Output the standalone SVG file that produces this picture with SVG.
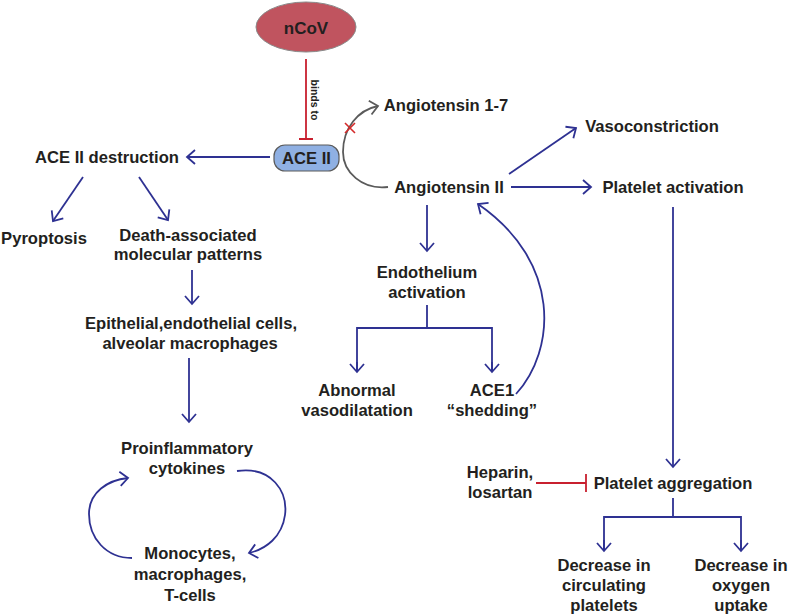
<svg xmlns="http://www.w3.org/2000/svg" width="790" height="616" viewBox="0 0 790 616">
<defs>
<style>
text{font-family:"Liberation Sans",Arial,sans-serif;font-weight:bold;fill:#231f20;text-anchor:middle;dominant-baseline:central}
.t{font-size:16.6px}
.b{fill:none;stroke:#2e3192;stroke-width:1.8}
.r{fill:none;stroke:#c8202f;stroke-width:1.8}
.g{fill:none;stroke:#5a5a5a;stroke-width:1.8}
</style>
<marker id="ab" markerUnits="userSpaceOnUse" markerWidth="20" markerHeight="20" viewBox="-10 -10 20 20" refX="0" refY="0" orient="auto"><path d="M-8,-7 L0,0 L-8,7" fill="none" stroke="#2e3192" stroke-width="1.8"/></marker>
<marker id="ag" markerUnits="userSpaceOnUse" markerWidth="20" markerHeight="20" viewBox="-10 -10 20 20" refX="0" refY="0" orient="auto"><path d="M-8,-7 L0,0 L-8,7" fill="none" stroke="#5a5a5a" stroke-width="1.8"/></marker>
</defs>
<rect width="790" height="616" fill="#fff"/>
<g id="connectors">
<path class="r" d="M306,59 V139 M299,139 H313"/>
<path class="b" d="M270,157 H187" marker-end="url(#ab)"/>
<path class="g" d="M388,187 C362,190 343,172 343,152 C343,128 358,110 378,106" marker-end="url(#ag)"/>
<path d="M345,123 L355,133 M345,133 L355,123" stroke="#d42a2a" stroke-width="1.6"/>
<path class="b" d="M509,174 L576,128" marker-end="url(#ab)"/>
<path class="b" d="M511,187 H591" marker-end="url(#ab)"/>
<path class="b" d="M673,207 V467" marker-end="url(#ab)"/>
<path class="r" d="M536,483 H586 M586,474 V492"/>
<path class="b" d="M673,498 V517 M604,551 V517 H741 V551" />
<path class="b" d="M604,540 V551" marker-end="url(#ab)"/>
<path class="b" d="M741,540 V551" marker-end="url(#ab)"/>
<path class="b" d="M83,177 L53,221" marker-end="url(#ab)"/>
<path class="b" d="M139,177 L168,220" marker-end="url(#ab)"/>
<path class="b" d="M192,270 V304" marker-end="url(#ab)"/>
<path class="b" d="M189,358 V422" marker-end="url(#ab)"/>
<path class="b" d="M237,471 C272,466 288,492 285,515 C282,537 266,549 249,553" marker-end="url(#ab)"/>
<path class="b" d="M132,558 C106,558 89,538 89,514 C89,492 108,480 128,478" marker-end="url(#ab)"/>
<path class="b" d="M427,205 V251" marker-end="url(#ab)"/>
<path class="b" d="M427,305 V328 M357,372 V328 H492 V372"/>
<path class="b" d="M357,362 V372" marker-end="url(#ab)"/>
<path class="b" d="M492,362 V372" marker-end="url(#ab)"/>
<path class="b" d="M516,394 C556,350 562,262 478,204" marker-end="url(#ab)"/>
</g>
<g id="ncov"><ellipse cx="306" cy="27" rx="50" ry="25" fill="#c0545f" stroke="#8a8a8a" stroke-width="1"/><text x="306" y="28" style="font-size:17px">nCoV</text></g>
<g id="binds-label"><text transform="translate(315,100) rotate(90)" style="font-size:10.5px">binds to</text></g>
<g id="ace2"><rect x="274" y="145" width="65" height="26" rx="11" fill="#8fb0e3" stroke="#5a5a5a" stroke-width="1.2"/><text class="t" x="306.5" y="158">ACE II</text></g>
<g id="ace2-destruction"><text class="t" x="107" y="157">ACE II destruction</text></g>
<g id="ang17"><text class="t" x="446" y="105">Angiotensin 1-7</text></g>
<g id="ang2"><text class="t" x="449" y="187">Angiotensin II</text></g>
<g id="vasoconstriction"><text class="t" x="652" y="126">Vasoconstriction</text></g>
<g id="platelet-activation"><text class="t" x="673" y="187">Platelet activation</text></g>
<g id="pyroptosis"><text class="t" x="44" y="238">Pyroptosis</text></g>
<g id="damp"><text class="t" x="188" y="235">Death-associated</text><text class="t" x="188" y="254">molecular patterns</text></g>
<g id="epithelial"><text class="t" x="191" y="323">Epithelial,endothelial cells,</text><text class="t" x="190" y="343">alveolar macrophages</text></g>
<g id="cytokines"><text class="t" x="187" y="448">Proinflammatory</text><text class="t" x="187" y="468">cytokines</text></g>
<g id="monocytes"><text class="t" x="190" y="553">Monocytes,</text><text class="t" x="190" y="574">macrophages,</text><text class="t" x="190" y="595">T-cells</text></g>
<g id="endothelium"><text class="t" x="427" y="272">Endothelium</text><text class="t" x="427" y="292">activation</text></g>
<g id="abnormal"><text class="t" x="357" y="390">Abnormal</text><text class="t" x="357" y="410">vasodilatation</text></g>
<g id="ace1"><text class="t" x="492" y="390">ACE1</text><text class="t" x="492" y="410">“shedding”</text></g>
<g id="heparin"><text class="t" x="500" y="472">Heparin,</text><text class="t" x="500" y="492">losartan</text></g>
<g id="platelet-aggregation"><text class="t" x="673" y="483">Platelet aggregation</text></g>
<g id="decrease-platelets"><text class="t" x="604" y="565">Decrease in</text><text class="t" x="604" y="585">circulating</text><text class="t" x="604" y="605">platelets</text></g>
<g id="decrease-oxygen"><text class="t" x="741" y="565">Decrease in</text><text class="t" x="741" y="585">oxygen</text><text class="t" x="741" y="605">uptake</text></g>
</svg>
